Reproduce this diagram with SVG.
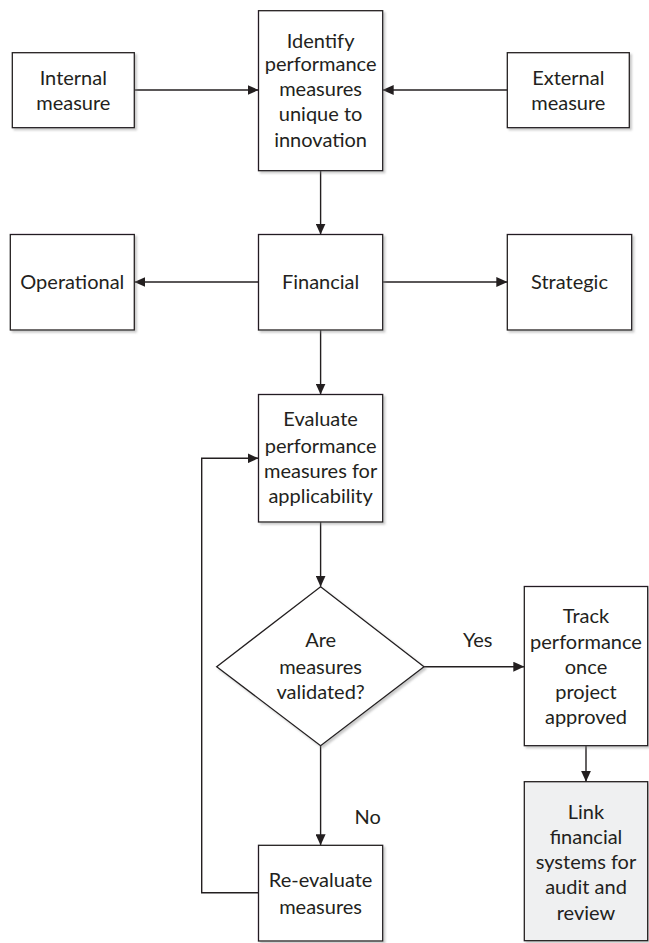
<svg xmlns="http://www.w3.org/2000/svg" width="649" height="943" viewBox="0 0 649 943">
  <style>
    .box { fill: #ffffff; stroke: #231f20; stroke-width: 1.3; filter: url(#shadow); }
    .shaded { fill: #eff0f1; }
    .label { font-family: Lato, "Liberation Sans", sans-serif; font-size: 20px; fill: #231f20; text-anchor: middle; }
    .edge { fill: none; stroke: #231f20; stroke-width: 1.4; }
    .arrow { marker-end: url(#head); }
  </style>
  <defs>
    <filter id="shadow" x="-10%" y="-10%" width="130%" height="130%">
      <feDropShadow dx="2" dy="2" stdDeviation="1.2" flood-color="#888888" flood-opacity="0.45"/>
    </filter>
    <marker id="head" markerUnits="userSpaceOnUse" markerWidth="11" markerHeight="10" refX="11" refY="5" orient="auto">
      <path d="M0,0 L11,5 L0,10 z" fill="#231f20"/>
    </marker>
  </defs>

  <rect width="649" height="943" fill="#ffffff"/>

  <!-- connectors -->
  <g id="connectors">
    <path class="edge arrow" d="M134.3,90 H258.5"/>
    <path class="edge arrow" d="M507.3,90 H382.7"/>
    <path class="edge arrow" d="M320.6,170.7 V234.5"/>
    <path class="edge arrow" d="M258.5,282 H134.3"/>
    <path class="edge arrow" d="M382.7,282 H507.3"/>
    <path class="edge arrow" d="M320.6,330 V394.5"/>
    <path class="edge arrow" d="M320.6,522 V586.7"/>
    <path class="edge arrow" d="M424,666.7 H524.3"/>
    <path class="edge arrow" d="M586,745.7 V781.7"/>
    <path class="edge arrow" d="M320.6,745.7 V845.3"/>
    <path class="edge arrow" d="M258.5,892.7 H201.7 V458.3 H258.5"/>
    <text class="label" x="477.7" y="647">Yes</text>
    <text class="label" x="367.7" y="823.7">No</text>
  </g>

  <g id="internal-measure">
    <rect class="box" x="12.3" y="52.7" width="122" height="75"/>
    <text class="label" x="73.3" y="85">Internal</text>
    <text class="label" x="73.3" y="110.3">measure</text>
  </g>

  <g id="identify">
    <rect class="box" x="258.5" y="10.7" width="124.2" height="160"/>
    <text class="label" x="320.6" y="48">Identify</text>
    <text class="label" x="320.6" y="71.3">performance</text>
    <text class="label" x="320.6" y="96.3">measures</text>
    <text class="label" x="320.6" y="121.3">unique to</text>
    <text class="label" x="320.6" y="147">innovation</text>
  </g>

  <g id="external-measure">
    <rect class="box" x="507.3" y="52.7" width="122" height="75"/>
    <text class="label" x="568.3" y="85">External</text>
    <text class="label" x="568.3" y="110.3">measure</text>
  </g>

  <g id="operational">
    <rect class="box" x="10.3" y="234.5" width="124" height="95.5"/>
    <text class="label" x="72.3" y="289.3">Operational</text>
  </g>

  <g id="financial">
    <rect class="box" x="258.5" y="234.5" width="124.2" height="95.5"/>
    <text class="label" x="320.6" y="289.3">Financial</text>
  </g>

  <g id="strategic">
    <rect class="box" x="507.3" y="234.5" width="124.4" height="95.5"/>
    <text class="label" x="569.5" y="289.3">Strategic</text>
  </g>

  <g id="evaluate">
    <rect class="box" x="258.5" y="394.5" width="124.2" height="127.5"/>
    <text class="label" x="320.6" y="426">Evaluate</text>
    <text class="label" x="320.6" y="452.7">performance</text>
    <text class="label" x="320.6" y="477.7">measures for</text>
    <text class="label" x="320.6" y="502.7">applicability</text>
  </g>

  <g id="validated">
    <path class="box" d="M320.6,586.7 L424,666.7 L320.6,745.7 L216.7,666.7 Z"/>
    <text class="label" x="320.6" y="647">Are</text>
    <text class="label" x="320.6" y="673.7">measures</text>
    <text class="label" x="320.6" y="698.7">validated?</text>
  </g>

  <g id="track">
    <rect class="box" x="524.3" y="586.5" width="123.4" height="159.2"/>
    <text class="label" x="586" y="622.7">Track</text>
    <text class="label" x="586" y="648.7">performance</text>
    <text class="label" x="586" y="673.7">once</text>
    <text class="label" x="586" y="698.7">project</text>
    <text class="label" x="586" y="723.7">approved</text>
  </g>

  <g id="link-systems">
    <rect class="box shaded" x="524.3" y="781.7" width="123.4" height="159"/>
    <text class="label" x="586" y="818.7">Link</text>
    <text class="label" x="586" y="844.3">financial</text>
    <text class="label" x="586" y="868.7">systems for</text>
    <text class="label" x="586" y="893.7">audit and</text>
    <text class="label" x="586" y="920.3">review</text>
  </g>

  <g id="re-evaluate">
    <rect class="box" x="258.5" y="845.3" width="124.2" height="95.7"/>
    <text class="label" x="320.6" y="887">Re-evaluate</text>
    <text class="label" x="320.6" y="913.7">measures</text>
  </g>
</svg>
